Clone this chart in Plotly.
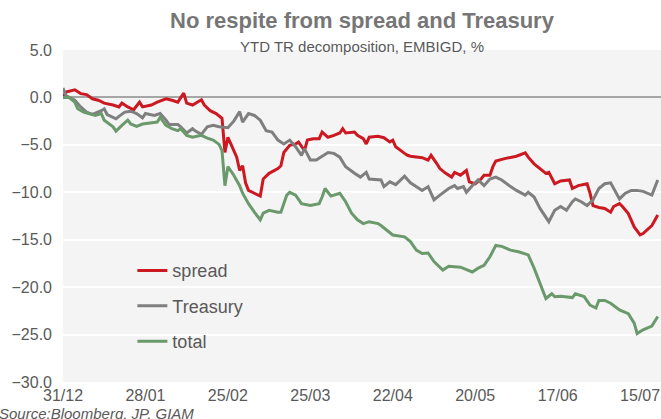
import pandas as pd
import plotly.graph_objects as go

# ---- data (day offsets from 31/12/2021, values in %) ----
base_date = "2021-12-31"

red_days = [0,1,4,6,8,10,12,14,17,19,20,22,24,26,27,30,32,35,37,39,41,42,44,47,48,50,52,54,55,56,57,59,60,61,62,63,65,67,68,70,73,74,75,77,79,80,82,83,85,87,88,90,92,94,95,96,99,100,102,103,104,107,109,111,112,113,116,117,118,120,122,124,125,127,128,130,132,133,135,137,138,140,142,143,145,146,147,150,152,154,157,158,160,162,164,165,167,169,172,173,175,178,179,180,182,184,186,187,189,190,192,194,196,197,199,200,202]
spread = [0.0,0.56,0.8,0.4,0.3,-0.14,-0.3,-0.6,-0.8,-1.0,-0.6,-1.0,-1.3,-0.5,-1.0,-0.8,-0.5,-0.14,-0.3,-0.5,0.45,-0.6,-0.8,-0.25,-0.8,-1.4,-1.7,-2.2,-5.8,-4.2,-4.9,-6.3,-7.7,-7.2,-9.0,-9.8,-10.1,-10.4,-8.6,-8.0,-7.5,-7.2,-5.8,-5.05,-4.9,-4.7,-5.6,-4.5,-4.35,-4.35,-3.65,-4.2,-4.0,-3.75,-3.3,-3.75,-3.65,-4.0,-4.35,-4.9,-4.2,-4.1,-4.25,-4.7,-4.5,-5.2,-5.9,-6.1,-6.2,-6.3,-6.35,-6.6,-6.1,-7.0,-7.5,-8.0,-8.4,-7.9,-8.2,-7.7,-8.9,-9.1,-8.6,-8.2,-8.2,-7.3,-6.7,-6.45,-6.3,-6.2,-5.85,-6.3,-7.0,-7.5,-8.0,-7.9,-9.1,-8.8,-8.7,-9.6,-9.3,-9.1,-10.1,-11.4,-11.6,-11.7,-12.1,-11.5,-11.2,-11.5,-12.25,-13.65,-14.5,-14.35,-13.8,-13.5,-12.4]

gray_days = [0,1,4,6,8,10,13,14,15,18,19,21,23,25,27,28,31,33,35,36,39,40,42,44,45,47,49,51,53,56,58,60,61,63,65,67,69,71,73,75,77,79,81,82,84,86,90,92,94,96,99,101,103,104,108,109,111,113,114,116,118,120,122,124,126,128,131,133,134,136,137,139,141,143,145,147,149,152,154,157,158,160,162,165,167,169,171,173,174,176,178,180,182,184,186,189,191,193,195,197,199,200,202]
treasury = [1.0,0.2,-0.3,-1.0,-1.55,-1.8,-1.4,-1.2,-1.8,-2.25,-2.0,-1.55,-1.45,-1.7,-2.15,-1.7,-1.9,-1.7,-2.4,-2.85,-2.85,-3.1,-3.75,-3.3,-3.55,-3.9,-3.1,-2.95,-3.1,-3.2,-2.5,-1.5,-2.6,-1.7,-1.9,-2.4,-3.5,-3.65,-4.5,-4.9,-4.5,-5.2,-6.1,-5.4,-6.6,-6.6,-5.8,-5.9,-6.3,-7.3,-8.0,-8.4,-7.9,-8.6,-8.7,-9.4,-8.9,-9.2,-8.9,-8.3,-9.0,-9.4,-9.8,-9.4,-10.8,-10.3,-9.6,-9.3,-9.6,-9.4,-10.0,-9.3,-8.7,-9.3,-8.6,-8.4,-8.7,-9.4,-9.8,-10.3,-10.0,-10.5,-11.7,-13.1,-11.9,-11.5,-11.9,-11.0,-10.7,-11.0,-11.4,-10.8,-9.6,-9.1,-9.0,-10.7,-10.1,-9.8,-9.8,-9.9,-10.2,-10.3,-8.7]

green_days = [0,2,4,5,7,9,11,13,14,17,18,20,22,23,25,27,29,32,33,35,37,39,40,42,44,47,49,51,53,54,55,56,58,60,61,63,65,67,68,70,73,74,76,77,79,81,84,87,88,89,91,94,96,98,100,102,104,107,108,110,112,116,118,120,122,124,126,129,131,135,139,141,143,145,147,149,152,155,158,160,162,164,166,167,169,173,174,177,179,181,182,184,186,189,192,194,195,197,200,202]
total = [0.0,0.0,-0.5,-1.2,-1.55,-1.7,-1.9,-1.7,-2.4,-3.1,-3.55,-2.95,-2.4,-2.8,-3.05,-2.8,-2.7,-2.6,-2.1,-2.95,-3.3,-3.5,-3.3,-4.0,-4.2,-4.0,-4.3,-4.5,-4.95,-5.6,-9.3,-7.3,-8.2,-9.3,-10.1,-11.2,-12.1,-12.9,-12.2,-11.9,-12.1,-12.1,-10.3,-10.0,-10.3,-11.2,-11.4,-11.2,-10.5,-9.6,-10.4,-10.1,-11.0,-12.2,-12.9,-13.3,-13.1,-13.3,-13.5,-14.0,-14.5,-14.7,-15.2,-16.1,-16.45,-16.4,-17.3,-18.2,-17.8,-17.9,-18.4,-18.0,-17.7,-16.8,-15.6,-15.7,-16.1,-16.3,-16.6,-18.0,-19.5,-21.2,-20.7,-21.0,-20.95,-21.1,-20.7,-21.0,-21.9,-22.2,-21.4,-21.4,-21.7,-22.4,-22.8,-23.8,-24.9,-24.5,-24.1,-23.1]

tick_labels = ["31/12", "28/01", "25/02", "25/03", "22/04", "20/05", "17/06", "15/07"]
tick_days = [0, 28, 56, 84, 112, 140, 168, 196]

title_text = "No respite from spread and Treasury"
subtitle_text = "YTD TR decomposition, EMBIGD, %"
source_text = "Source:Bloomberg, JP, GIAM"

# ---- build ----
b = pd.Timestamp(base_date)
def to_dates(days):
    return b + pd.to_timedelta(days, unit="D")

FONT = "Liberation Sans, Arial, sans-serif"
series = [
    ("spread", red_days, spread, "#cc1820"),
    ("Treasury", gray_days, treasury, "#7f7f7f"),
    ("total", green_days, total, "#6a9a6b"),
]

fig = go.Figure()
for name, d, v, c in series:
    fig.add_trace(go.Scatter(
        x=to_dates(d), y=v, name=name, mode="lines",
        line=dict(color=c, width=3), legendgroup=name,
    ))

fig.update_layout(
    width=661, height=419,
    margin=dict(l=63, r=0, t=50, b=37),
    paper_bgcolor="white",
    plot_bgcolor="#f4f4f4",
    font=dict(family=FONT, color="#595959", size=16),
    showlegend=True,
    legend=dict(
        x=0.116, y=0.391, xanchor="left", yanchor="top",
        bgcolor="rgba(0,0,0,0)", font=dict(size=18, color="#595959"),
        traceorder="grouped", tracegroupgap=9, itemwidth=30,
    ),
    xaxis=dict(
        type="date",
        range=[b, b + pd.Timedelta(days=203.1)],
        tickvals=to_dates(tick_days), ticktext=tick_labels,
        showgrid=False, zeroline=False, showline=False, ticks="",
        tickfont=dict(size=16, color="#595959"),
        ticklabelstandoff=2,
    ),
    yaxis=dict(
        range=[-30, 5], dtick=5, tick0=0, tickformat=".1f",
        showgrid=True, gridcolor="#ffffff", gridwidth=1.5,
        zeroline=True, zerolinecolor="#a6a6a6", zerolinewidth=1.5,
        showline=False, ticks="",
        tickfont=dict(size=16, color="#595959"),
        ticklabelstandoff=10,
    ),
    annotations=[
        dict(text="<b>" + title_text + "</b>", xref="paper", yref="paper",
             x=0.5, y=1.089, xanchor="center", yanchor="middle", showarrow=False,
             font=dict(size=22, color="#767676", family=FONT)),
        dict(text=subtitle_text, xref="paper", yref="paper",
             x=0.5, y=1.01, xanchor="center", yanchor="middle", showarrow=False,
             font=dict(size=15, color="#595959", family=FONT)),
        dict(text="<i>" + source_text + "</i>", xref="paper", yref="paper",
             x=-0.111, y=-0.094, xanchor="left", yanchor="middle", showarrow=False,
             font=dict(size=15, color="#595959", family=FONT)),
    ],
)

fig.write_html(
    "out.html",
    config={"displayModeBar": False},
    post_script="document.body.style.margin='0';document.body.style.overflow='hidden';",
)
